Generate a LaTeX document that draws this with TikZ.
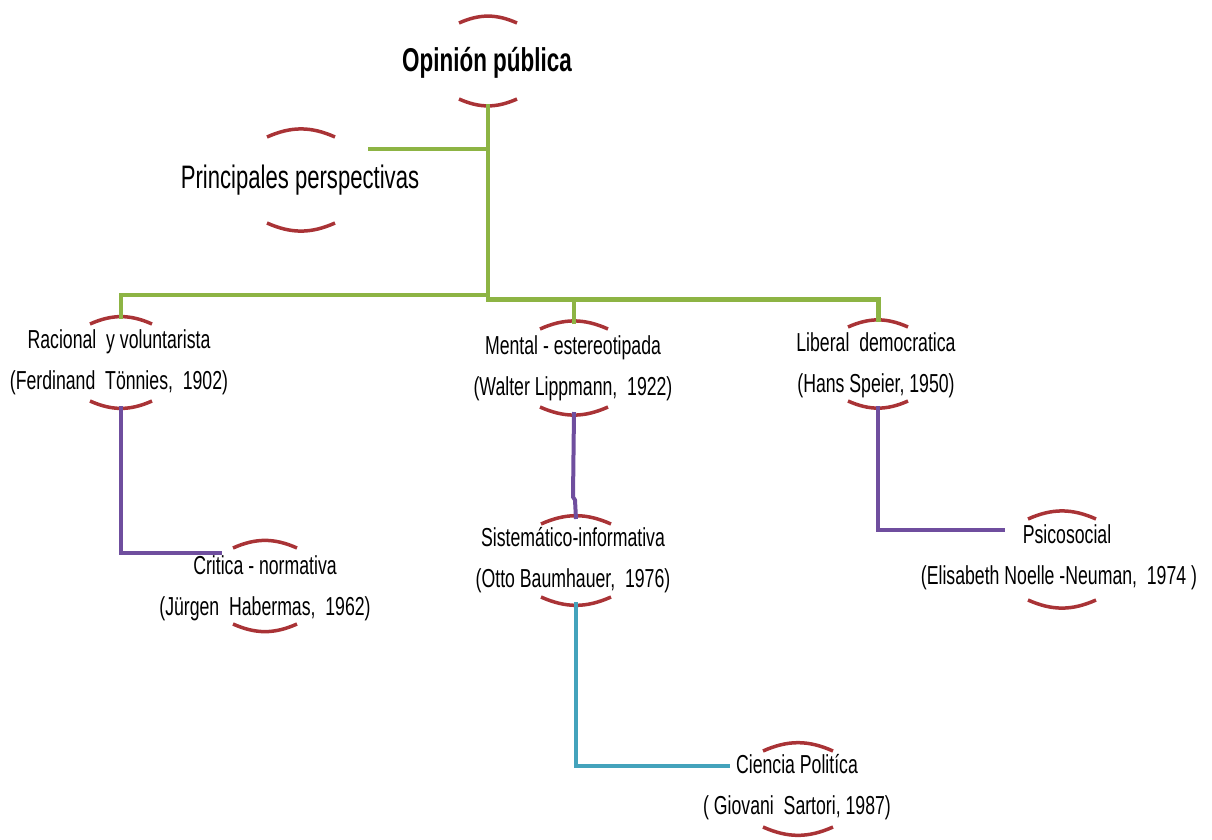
\documentclass[tikz,border=0pt]{standalone}
\usepackage{fontspec}
\setmainfont{Liberation Sans}[FakeStretch=0.68]
\definecolor{arcred}{HTML}{A93336}
\definecolor{branchgreen}{HTML}{8DB444}
\definecolor{linkpurple}{HTML}{6F4E9E}
\definecolor{linkteal}{HTML}{44A3BC}

% Two curved marks above and below a node; also names the top and bottom points
% #1 node, #2 half width, #3 distance up to the upper ends, #4 distance down to the lower ends, #5 x offset
\newcommand\ringmarks[5]{%
  \draw[ringarc] ([shift={(#5-#2,-#3)}]#1.center) to[bend left=24] ([shift={(#5+#2,-#3)}]#1.center);
  \draw[ringarc] ([shift={(#5-#2,#4)}]#1.center) to[bend right=24] ([shift={(#5+#2,#4)}]#1.center);
  \coordinate (#1-t) at ([shift={(#5,-#3-5)}]#1.center);
  \coordinate (#1-b) at ([shift={(#5,#4+5)}]#1.center);
}

\begin{document}
\begin{tikzpicture}[x=1pt,y=-1pt,
  ringarc/.style={draw=arcred, line width=3.5pt},
  titlebox/.style={font=\fontsize{33}{38}\bfseries\selectfont, inner sep=0pt},
  headbox/.style={font=\fontsize{32.5}{38}\selectfont, inner sep=0pt},
  itembox/.style={font=\fontsize{26}{41}\selectfont, align=center, inner sep=0pt},
  greenlink/.style={draw=branchgreen, line width=4pt},
  purplelink/.style={draw=linkpurple, line width=4pt},
  teallink/.style={draw=linkteal, line width=4pt}]
\useasboundingbox (0,0) rectangle (1212,839);

% nodes
\node[titlebox] (op) at (487,63) {Opinión pública};
\node[headbox] (pp) at (300,180) {Principales perspectivas};
\node[itembox] (rac) at (119,362) {Racional~ y voluntarista\\(Ferdinand~ Tönnies,~ 1902)};
\node[itembox] (cri) at (265,588) {Critica - normativa\\(Jürgen~ Habermas,~ 1962)};
\node[itembox] (men) at (573,368) {Mental - estereotipada\\(Walter Lippmann,~ 1922)};
\node[itembox] (lib) at (876,365) {Liberal~ democratica\\(Hans Speier, 1950)};
\node[itembox] (sis) at (573,560) {Sistemático-informativa\\(Otto Baumhauer,~ 1976)};
\node[itembox] (psi) at (1059,557) {\hspace*{16pt}Psicosocial\\(Elisabeth Noelle -Neuman,~ 1974 )};
\node[itembox] (cie) at (797,787) {Ciencia Politíca\\( Giovani~ Sartori, 1987)};

% curved marks
\ringmarks{op}{29}{40}{36}{1}
\ringmarks{pp}{34}{43}{43}{1}
\ringmarks{rac}{31}{38}{39}{2}
\ringmarks{cri}{32}{40}{36}{0}
\ringmarks{men}{34}{39}{39}{1}
\ringmarks{lib}{30}{38}{36}{2}
\ringmarks{sis}{35}{36}{37}{3}
\ringmarks{psi}{34}{38}{43}{3}
\ringmarks{cie}{35}{36}{40}{1}

% connection points
\coordinate (hub) at (488,299);
\coordinate (pp-link) at (368,149);
\coordinate (cri-link) at ([shift={(-43,-35)}]cri.center);
\coordinate (psi-link) at ([shift={(-54,-27)}]psi.center);
\coordinate (cie-link) at ([shift={(-67,-21)}]cie.center);
\coordinate (men-jog) at ([shift={(0,129)}]men.center);

% green tree
\draw[greenlink] (op-b) -- ([shift={(0,3)}]hub);
\draw[greenlink] (op-b |- pp-link) -- (pp-link);
\draw[greenlink] ([shift={(0,-4)}]hub) -| (rac-t);
\draw[greenlink, line width=5pt] (hub) -| (lib-t);
\draw[greenlink] (hub -| men-t) -- (men-t);

% lower links
\draw[purplelink] (rac-b) |- (cri-link);
\draw[purplelink] (men-b) -- (men-jog) -- ([shift={(2,3)}]men-jog) -- (sis-t);
\draw[purplelink] (lib-b) |- (psi-link);
\draw[teallink] (sis-b) |- (cie-link);
\end{tikzpicture}
\end{document}
